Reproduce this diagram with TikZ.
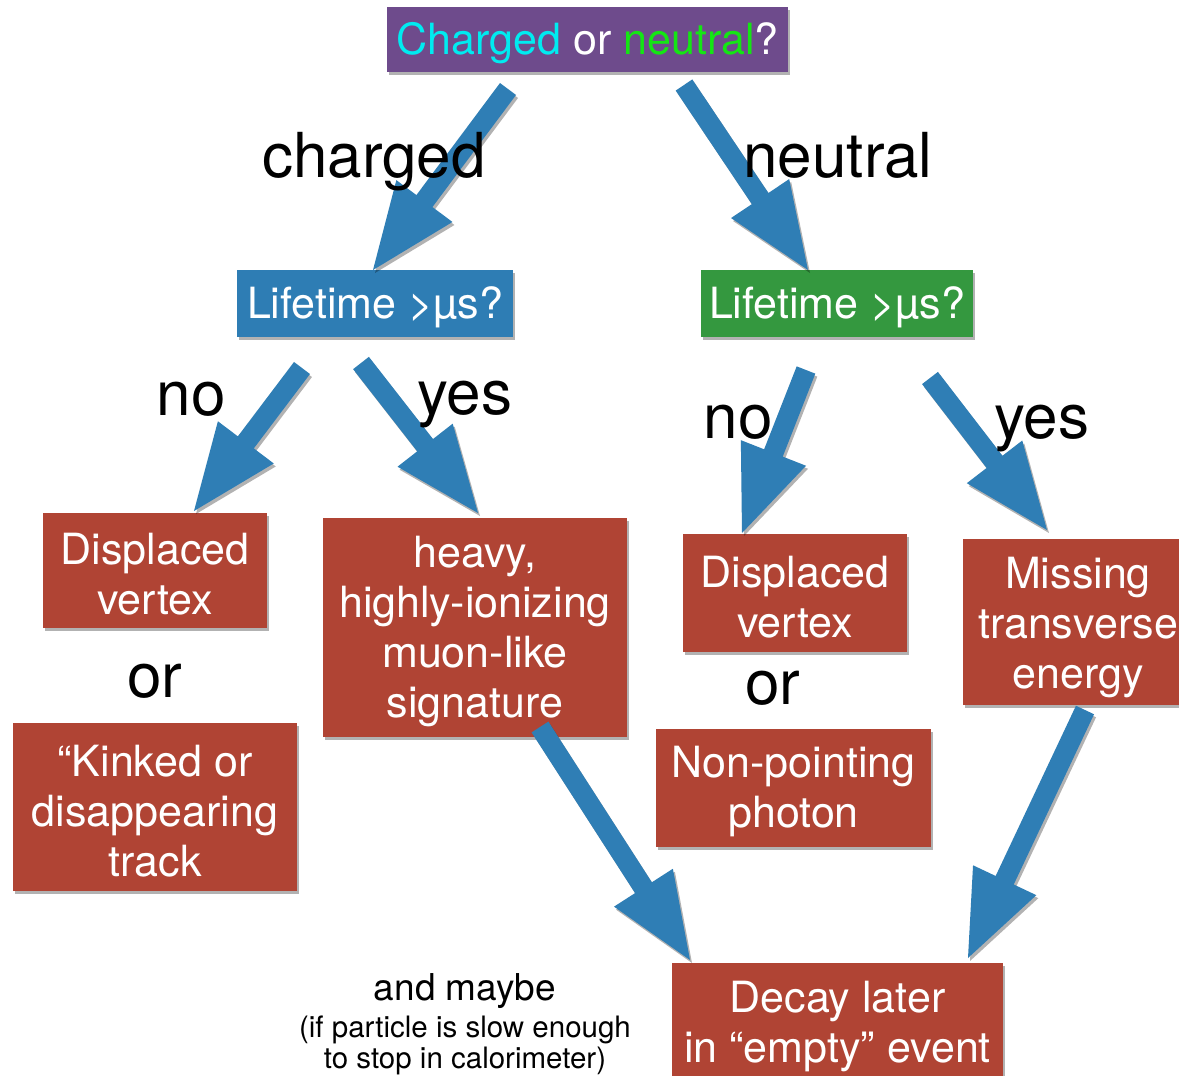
\documentclass[tikz,border=0pt]{standalone}
\usepackage{fontspec}
\setmainfont{TeX Gyre Heros}
\usetikzlibrary{calc,shadows}
\definecolor{boxpurple}{RGB}{110,75,140}
\definecolor{boxblue}{RGB}{46,125,180}
\definecolor{boxgreen}{RGB}{52,152,63}
\definecolor{boxred}{RGB}{176,68,52}
\definecolor{arrowblue}{RGB}{47,126,181}
\definecolor{txtcyan}{RGB}{0,235,240}
\definecolor{txtgreen}{RGB}{20,230,20}
\newcommand\blockarrow[2]{%
  \coordinate (ba-h) at ($(#2)!86pt!(#1)$);
  \fill[arrowfill]
    ($(#1)!10pt!90:(#2)$) -- ($(ba-h)!10pt!-90:(#1)$) -- ($(ba-h)!35pt!-90:(#1)$) --
    (#2) -- ($(ba-h)!35pt!90:(#1)$) -- ($(ba-h)!10pt!90:(#1)$) --
    ($(#1)!10pt!-90:(#2)$) -- cycle;}
\begin{document}
\begin{tikzpicture}[x=1pt,y=-1pt,
  shad/.style={drop shadow={shadow xshift=2pt,shadow yshift=-3pt,opacity=0.3,fill=black}},
  arrowfill/.style={fill=arrowblue,shad},
  box/.style={rectangle,inner sep=0pt,shad},
  boxtext/.style={inner sep=0pt,align=center,text=white,
    font=\fontsize{43}{50}\selectfont},
  lbl/.style={inner sep=0pt,anchor=base,text=black,font=\fontsize{62}{62}\selectfont},
  note/.style={inner sep=0pt,anchor=base,text=black}]
\useasboundingbox[fill=white] (0,0) rectangle (1179,1076);

% boxes
\node[box,fill=boxpurple,minimum width=401,minimum height=65] (top) at (587.5,39.5) {};
\node[box,fill=boxblue,minimum width=276,minimum height=67] (lifeC) at (375,303.5) {};
\node[box,fill=boxgreen,minimum width=272,minimum height=67] (lifeN) at (837,303.5) {};
\node[box,fill=boxred,minimum width=224,minimum height=115] (dvL) at (155,570.5) {};
\node[box,fill=boxred,minimum width=284,minimum height=168] (kink) at (155,807) {};
\node[box,fill=boxred,minimum width=304,minimum height=219] (heavy) at (475,627.5) {};
\node[box,fill=boxred,minimum width=224,minimum height=118] (dvR) at (795,593) {};
\node[box,fill=boxred,minimum width=275,minimum height=118] (photon) at (793.5,788) {};
\node[box,fill=boxred,minimum width=230,minimum height=166] (met) at (1078,622) {};
\node[box,fill=boxred,minimum width=331,minimum height=127] (decay) at (837.5,1026.5) {};

% box texts
\node[boxtext] (topT) at ([yshift=-4pt]top.center)
  {\textcolor{txtcyan}{Charged} or \textcolor{txtgreen}{neutral}?};
\node[boxtext] (lifeCT) at ([yshift=-4pt]lifeC.center) {Lifetime >µs?};
\node[boxtext] (lifeNT) at ([yshift=-4pt]lifeN.center) {Lifetime >µs?};
\node[boxtext] (dvLT) at ([yshift=-4pt]dvL.center) {Displaced\\vertex};
\node[boxtext] (kinkT) at ([yshift=-4pt]kink.center) {“Kinked or\\disappearing\\track};
\node[boxtext] (heavyT) at ([yshift=-4pt]heavy.center) {heavy,\\highly-ionizing\\muon-like\\signature};
\node[boxtext] (dvRT) at ([yshift=-4pt]dvR.center) {Displaced\\vertex};
\node[boxtext] (photonT) at ([yshift=-4pt]photon.center) {Non-pointing\\photon};
\node[boxtext] (metT) at ([yshift=-6pt]met.center) {Missing\\transverse\\energy};
\node[boxtext] (decayT) at (decay.center) {Decay later\\in “empty” event};

% right "no" label sits behind its arrow
\node[lbl] (noN) at (738,438) {no};

% arrows
\coordinate (a1s) at (508,89);   \coordinate (a1e) at (373,270);
\coordinate (a2s) at (684,85);   \coordinate (a2e) at (808,270);
\coordinate (a3s) at (302,368);  \coordinate (a3e) at (194,511);
\coordinate (a4s) at (361,363);  \coordinate (a4e) at (478,513);
\coordinate (a5s) at (806,370);  \coordinate (a5e) at (742,533);
\coordinate (a6s) at (930,378);  \coordinate (a6e) at (1047,530);
\coordinate (a7s) at (540,727);  \coordinate (a7e) at (690,960);
\coordinate (a8s) at (1085,710); \coordinate (a8e) at (968,958);
\blockarrow{a1s}{a1e}
\blockarrow{a2s}{a2e}
\blockarrow{a3s}{a3e}
\blockarrow{a4s}{a4e}
\blockarrow{a5s}{a5e}
\blockarrow{a6s}{a6e}
\blockarrow{a7s}{a7e}
\blockarrow{a8s}{a8e}

% labels
\node[lbl] (charged) at (374,177) {charged};
\node[lbl] (neutral) at (838,177) {neutral};
\node[lbl] (noC) at (191,415) {no};
\node[lbl] (yesC) at (465,414) {yes};
\node[lbl] (yesN) at (1042,438) {yes};
\node[lbl] (orL) at (155,697) {or};
\node[lbl] (orR) at (773,704) {or};
\node[note,font=\fontsize{37}{37}\selectfont] (maybe) at (465,1000) {and maybe};
\node[note,font=\fontsize{29.5}{29.5}\selectfont] (if1) at (465,1037) {(if particle is slow enough};
\node[note,font=\fontsize{29.5}{29.5}\selectfont] (if2) at (465,1068) {to stop in calorimeter)};
\end{tikzpicture}
\end{document}
